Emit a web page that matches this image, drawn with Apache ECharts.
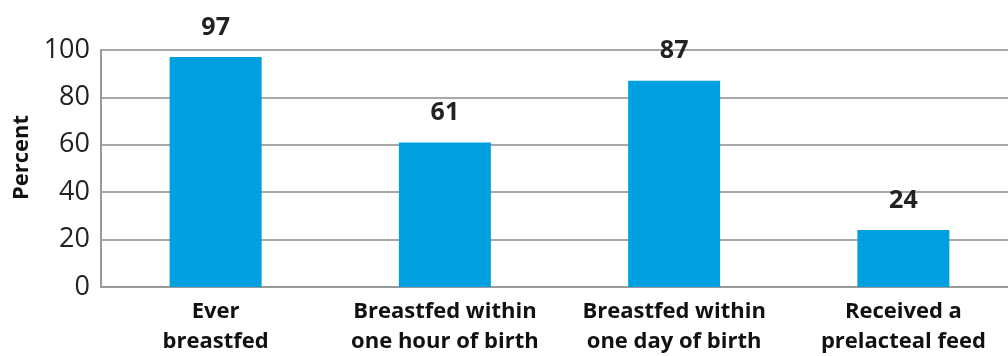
<!DOCTYPE html>
<html lang="en">
  <head>
    <meta charset="UTF-8" />
    <title>breastfeeding</title>
    <script src="https://cdn.jsdelivr.net/npm/echarts@6/dist/echarts.min.js"></script>
    <style>
      body {
        margin: 0;
        padding: 0;
        background: #fff;
      }

      #main {
        width: 1008px;
        height: 356px;
      }
    </style>
  </head>

  <body>
    <div id="main"></div>
    <script>
      const categories = [
        "Ever\nbreastfed",
        "Breastfed within\none hour of birth",
        "Breastfed within\none day of birth",
        "Received a\nprelacteal feed",
      ];
      const percents = [97, 61, 87, 24];
      const yTicks = [0, 20, 40, 60, 80, 100];

      const font = "'Open Sans', 'Liberation Sans', sans-serif";
      const myChart = echarts.init(document.getElementById("main"));

      const option = {
        animation: false,
        grid: {
          left: 101,
          right: -10,
          top: 50,
          bottom: 69,
          containLabel: false,
          outerBoundsMode: "none",
        },
        xAxis: {
          type: "category",
          data: categories,
          axisTick: { show: false },
          axisLine: { lineStyle: { color: "#9a9a9a", width: 2 } },
          axisLabel: {
            interval: 0,
            margin: 10,
            color: "#111",
            fontFamily: font,
            fontWeight: "bold",
            fontSize: 22,
            lineHeight: 30,
          },
        },
        yAxis: {
          type: "value",
          min: yTicks[0],
          max: yTicks[yTicks.length - 1],
          interval: 20,
          name: "Percent",
          nameLocation: "middle",
          nameGap: 68,
          nameTextStyle: {
            color: "#111",
            fontFamily: font,
            fontWeight: "bold",
            fontSize: 22,
            padding: [0, 0, 0, 22],
          },
          axisLine: { show: true, lineStyle: { color: "#9a9a9a", width: 2 } },
          axisTick: { show: false },
          splitLine: { lineStyle: { color: "#a8a8a8", width: 2 } },
          axisLabel: {
            margin: 11,
            color: "#222",
            fontFamily: font,
            fontSize: 27,
          },
        },
        series: [
          {
            type: "bar",
            data: percents,
            barWidth: 92,
            itemStyle: { color: "#009fdf" },
            label: {
              show: true,
              position: "top",
              distance: 17,
              color: "#222",
              fontFamily: font,
              fontWeight: "bold",
              fontSize: 25,
            },
          },
        ],
      };

      myChart.setOption(option);
    </script>
  </body>
</html>
